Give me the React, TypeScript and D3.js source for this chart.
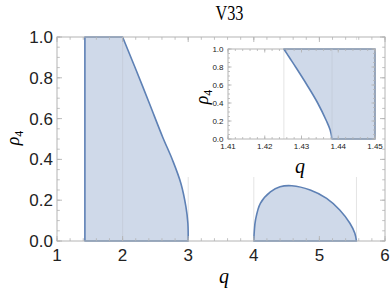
import * as React from "react";
import { scaleLinear, line, curveCatmullRom, ticks } from "d3";

// left region: right-hand boundary from (2,1) down to (3,0)
const leftEdgeQ = 1.4253;
const leftCurveQ = [2.0, 2.207, 2.409, 2.61, 2.762, 2.889, 2.965, 2.995, 3.0];
const leftCurveRho = [1.0, 0.837, 0.674, 0.51, 0.396, 0.282, 0.168, 0.087, 0.0];

// right blob
const blobQ = [4.0, 4.008, 4.026, 4.1, 4.253, 4.4, 4.58, 4.86, 5.11, 5.31, 5.465, 5.54, 5.565];
const blobRho = [0, 0.05, 0.103, 0.185, 0.241, 0.266, 0.271, 0.25, 0.209, 0.152, 0.087, 0.038, 0];

// inset: left boundary of the zoomed region
const insetQ = [1.4252, 1.4268, 1.4284, 1.4315, 1.4344, 1.4368, 1.4378, 1.4383];
const insetRho = [1.0, 0.9, 0.8, 0.6, 0.4, 0.2, 0.1, 0.0];

const meshQ = [1.4253, 2, 3, 4, 5.565];
const insetMeshQ = [1.4252, 1.4383];

const xTicks = [1, 2, 3, 4, 5, 6];
const yTicks = [0, 0.2, 0.4, 0.6, 0.8, 1.0];
const insetXTicks = [1.41, 1.42, 1.43, 1.44, 1.45];

const stroke = "#5E81B5";
const fill = "rgb(207,217,233)";
const frameColor = "#b4b4b4";
const sans = "'Liberation Sans', Arial, sans-serif";
const serif = "'Liberation Serif', 'Times New Roman', serif";

type Pt = [number, number];

function Frame({ x, y, xMaj, xMin, yMaj, yMin, big, fmtX, fmtY }: any) {
  const [x0, x1] = x.range();
  const [y0, y1] = y.range();
  const majL = big ? 5 : 3.5;
  const minL = big ? 2.8 : 2;
  const fs = big ? 17 : 8;
  return (
    <g>
      <rect x={x0} y={y1} width={x1 - x0} height={y0 - y1} fill="none" stroke={frameColor} strokeWidth={1} />
      {xMin.map((t: number, i: number) => (
        <g key={"xm" + i} stroke={frameColor} strokeWidth={0.8}>
          <line x1={x(t)} x2={x(t)} y1={y0} y2={y0 - minL} />
          <line x1={x(t)} x2={x(t)} y1={y1} y2={y1 + minL} />
        </g>
      ))}
      {xMaj.map((t: number, i: number) => (
        <g key={"xM" + i}>
          <line x1={x(t)} x2={x(t)} y1={y0} y2={y0 - majL} stroke={frameColor} strokeWidth={0.9} />
          <line x1={x(t)} x2={x(t)} y1={y1} y2={y1 + majL} stroke={frameColor} strokeWidth={0.9} />
          <text x={x(t)} y={y0 + (big ? 20 : 9.5)} textAnchor="middle" fontFamily={sans} fontSize={fs} fill="#222">
            {fmtX(t)}
          </text>
        </g>
      ))}
      {yMin.map((t: number, i: number) => (
        <g key={"ym" + i} stroke={frameColor} strokeWidth={0.8}>
          <line x1={x0} x2={x0 + minL} y1={y(t)} y2={y(t)} />
          <line x1={x1} x2={x1 - minL} y1={y(t)} y2={y(t)} />
        </g>
      ))}
      {yMaj.map((t: number, i: number) => (
        <g key={"yM" + i}>
          <line x1={x0} x2={x0 + majL} y1={y(t)} y2={y(t)} stroke={frameColor} strokeWidth={0.9} />
          <line x1={x1} x2={x1 - majL} y1={y(t)} y2={y(t)} stroke={frameColor} strokeWidth={0.9} />
          <text x={x0 - (big ? 4 : 4.5)} y={y(t) + (big ? 6 : 3)} textAnchor="end" fontFamily={sans} fontSize={fs} fill="#222">
            {fmtY(t)}
          </text>
        </g>
      ))}
    </g>
  );
}

export default function App() {
  const x = scaleLinear().domain([1, 6]).range([57, 385]);
  const y = scaleLinear().domain([0, 1]).range([241, 37]);
  const xi = scaleLinear().domain([1.41, 1.45]).range([228, 375]);
  const yi = scaleLinear().domain([0, 1]).range([139, 49]);

  const smooth = (sx: any, sy: any) =>
    line<Pt>().x((d) => sx(d[0])).y((d) => sy(d[1])).curve(curveCatmullRom.alpha(0.5));

  const leftPts: Pt[] = leftCurveQ.map((q, i) => [q, leftCurveRho[i]]);
  const leftPath =
    `M${x(leftEdgeQ)},${y(0)}L${x(leftEdgeQ)},${y(1)}` +
    smooth(x, y)(leftPts)!.replace(/^M/, "L") + "Z";

  const blobPts: Pt[] = blobQ.map((q, i) => [q, blobRho[i]]);
  const blobPath = smooth(x, y)(blobPts) + "Z";

  const insetPts: Pt[] = insetQ.map((q, i) => [q, insetRho[i]]);
  const insetPath =
    smooth(xi, yi)(insetPts) + `L${xi(1.45)},${yi(0)}L${xi(1.45)},${yi(1)}Z`;

  return (
    <svg width={392} height={292} style={{ position: "absolute", left: 0, top: 0 }}>
      <rect width={392} height={292} fill="white" />
      <text x={229.5} y={19.5} textAnchor="middle" fontFamily={serif} fontSize={21} textLength={28} lengthAdjust="spacingAndGlyphs">
        V33
      </text>

      {meshQ.map((q, i) => (
        <line key={i} x1={x(q)} x2={x(q)} y1={y(0)} y2={y(1)} stroke="#e4e4e4" strokeWidth={1} />
      ))}
      <path d={leftPath} fill={fill} stroke={stroke} strokeWidth={1.6} strokeLinejoin="round" />
      <path d={blobPath} fill={fill} stroke={stroke} strokeWidth={1.6} strokeLinejoin="round" />
      <line x1={x(2)} x2={x(2)} y1={y(0)} y2={y(1)} stroke="#c3cbd8" strokeWidth={0.8} />

      {/* inset */}
      <rect x={186} y={40} width={199} height={137} fill="white" />
      {insetMeshQ.map((q, i) => (
        <line key={i} x1={xi(q)} x2={xi(q)} y1={yi(0)} y2={yi(1)} stroke="#e4e4e4" strokeWidth={1} />
      ))}
      <path d={insetPath} fill={fill} stroke={stroke} strokeWidth={1.6} strokeLinejoin="round" />
      <line x1={xi(1.4383)} x2={xi(1.4383)} y1={yi(0)} y2={yi(1)} stroke="#c3cbd8" strokeWidth={0.8} />
      <Frame
        x={xi}
        y={yi}
        xMaj={insetXTicks}
        xMin={ticks(1.41, 1.45, 20)}
        yMaj={yTicks}
        yMin={ticks(0, 1, 20)}
        big={false}
        fmtX={(t: number) => t.toFixed(2)}
        fmtY={(t: number) => t.toFixed(1)}
      />
      <text transform="translate(208,97) rotate(-90)" textAnchor="middle" fontFamily={serif} fontSize={18}>
        <tspan fontStyle="italic">ρ</tspan>
        <tspan fontSize={12} dy={4}>4</tspan>
      </text>
      <text x={300} y={173} textAnchor="middle" fontFamily={serif} fontStyle="italic" fontSize={20}>
        q
      </text>

      <Frame
        x={x}
        y={y}
        xMaj={xTicks}
        xMin={ticks(1, 6, 25)}
        yMaj={yTicks}
        yMin={ticks(0, 1, 20)}
        big={true}
        fmtX={(t: number) => String(t)}
        fmtY={(t: number) => t.toFixed(1)}
      />
      <text transform="translate(19,138) rotate(-90)" textAnchor="middle" fontFamily={serif} fontSize={18}>
        <tspan fontStyle="italic">ρ</tspan>
        <tspan fontSize={12} dy={4}>4</tspan>
      </text>
      <text x={224} y={283} textAnchor="middle" fontFamily={serif} fontStyle="italic" fontSize={20}>
        q
      </text>
    </svg>
  );
}
